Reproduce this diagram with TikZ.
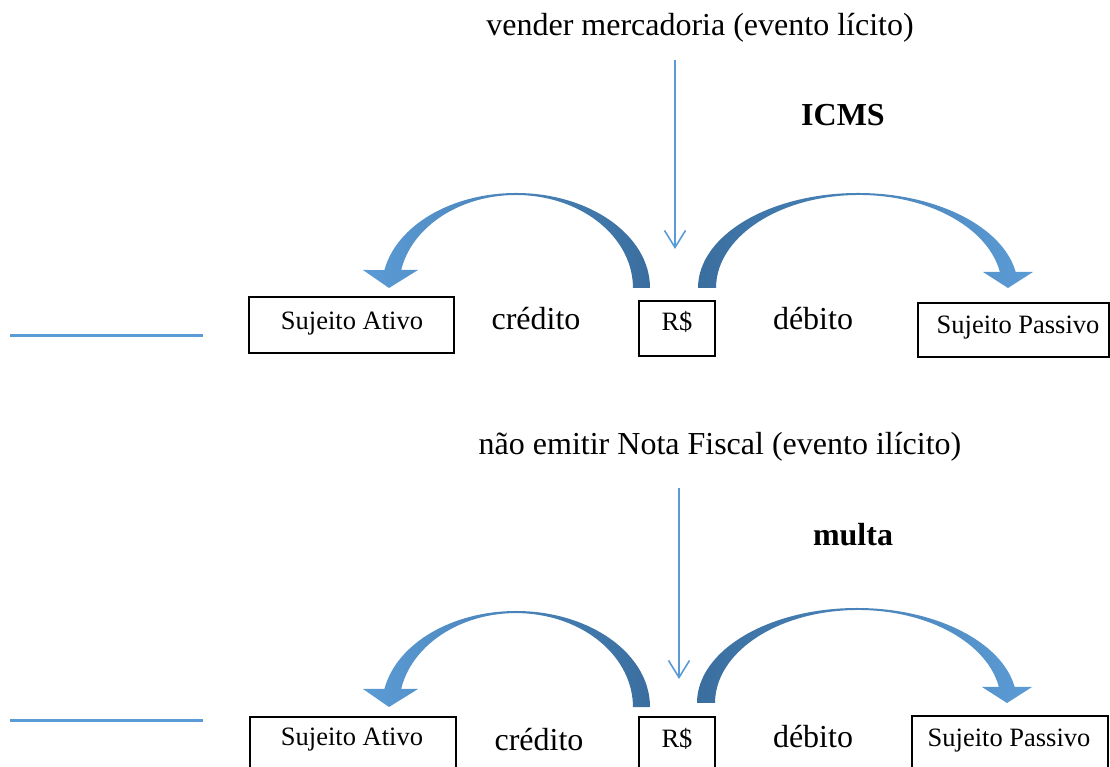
\documentclass[tikz,border=0pt]{standalone}
\usepackage{fontspec}
\setmainfont{Liberation Serif}
\usetikzlibrary{arrows.meta}
\definecolor{lb}{HTML}{5B9BD5}
\definecolor{db}{HTML}{3A6E9F}
\begin{document}
\begin{tikzpicture}[x=1pt,y=1pt,
  bigtext/.style={inner sep=0pt,font=\fontsize{32}{38}\selectfont},
  boxtext/.style={inner sep=0pt,anchor=base,font=\fontsize{26.5}{32}\selectfont},
  box/.style={draw=black,line width=1.3pt,inner sep=0pt},
  varrow/.style={draw=lb,line width=1.6pt,-{Straight Barb[length=17pt,width=21pt]}},
  sideline/.style={draw=lb,line width=3pt}]
\useasboundingbox (0,0) rectangle (1110,767);
\clip (0,0) rectangle (1110,767);

% ---------- top ----------
\node[bigtext] (t1) at (700,739) {vender mercadoria (evento lícito)};
\coordinate (a1s) at (675,707);
\coordinate (a1e) at (675,518);
\draw[varrow] (a1s) -- (a1e);
\node[bigtext,font=\fontsize{32}{38}\selectfont\bfseries] (icms) at (843,652) {ICMS};

\shade[left color=lb,right color=db]
  (650,479) arc[start angle=0,end angle=169.1,x radius=134pt,y radius=95pt]
  -- (363,497) -- (389,479) -- (418,497) -- (401.2,497.06)
  arc[start angle=168.8,end angle=0,x radius=117pt,y radius=93pt] -- cycle;
\shade[left color=db,right color=lb]
  (698,479) arc[start angle=180,end angle=9.7,x radius=160pt,y radius=95pt]
  -- (1033,495) -- (1008,479) -- (983,495) -- (999.9,495)
  arc[start angle=9.9,end angle=180,x radius=143pt,y radius=93pt] -- cycle;

\node[box,minimum width=205pt,minimum height=56pt] (sa1) at (351.5,442) {};
\node[boxtext] (sa1t) at (352,437) {Sujeito Ativo};
\node[box,minimum width=76pt,minimum height=55pt] (rs1) at (677,438.5) {};
\node[boxtext] (rs1t) at (677,436) {R\$};
\node[box,minimum width=191pt,minimum height=54pt] (sp1) at (1013.5,437) {};
\node[boxtext] (sp1t) at (1018,433) {Sujeito Passivo};
\node[bigtext,anchor=base] (cr1) at (536,437) {crédito};
\node[bigtext,anchor=base] (db1) at (813,437) {débito};
\coordinate (l1a) at (10,431);
\coordinate (l1b) at (203,431);
\draw[sideline] (l1a) -- (l1b);

% ---------- bottom ----------
\node[bigtext] (t2) at (720,320) {não emitir Nota Fiscal (evento ilícito)};
\coordinate (a2s) at (679,279);
\coordinate (a2e) at (679,88);
\draw[varrow] (a2s) -- (a2e);
\node[bigtext,font=\fontsize{32}{38}\selectfont\bfseries] (multa) at (853,232) {multa};

\begin{scope}[shift={(0,-419)}]
\shade[left color=lb,right color=db]
  (650,479) arc[start angle=0,end angle=169.1,x radius=134pt,y radius=96pt]
  -- (363,497) -- (389,479) -- (418,497) -- (401.2,497.16)
  arc[start angle=168.8,end angle=0,x radius=117pt,y radius=94pt] -- cycle;
\end{scope}
\begin{scope}[shift={(-1,-415)}]
\shade[left color=db,right color=lb]
  (698,479) arc[start angle=180,end angle=9.7,x radius=160pt,y radius=95pt]
  -- (1033,495) -- (1008,479) -- (983,495) -- (999.9,495)
  arc[start angle=9.9,end angle=180,x radius=143pt,y radius=93pt] -- cycle;
\end{scope}

\node[box,minimum width=206pt,minimum height=70pt] (sa2) at (353,15) {};
\node[boxtext] (sa2t) at (352,21) {Sujeito Ativo};
\node[box,minimum width=76pt,minimum height=70pt] (rs2) at (677,15) {};
\node[boxtext] (rs2t) at (677,19) {R\$};
\node[box,minimum width=196pt,minimum height=72pt] (sp2) at (1010,15) {};
\node[boxtext] (sp2t) at (1009,20) {Sujeito Passivo};
\node[bigtext,anchor=base] (cr2) at (539,16) {crédito};
\node[bigtext,anchor=base] (db2) at (813,19) {débito};
\coordinate (l2a) at (10,46);
\coordinate (l2b) at (203,46);
\draw[sideline] (l2a) -- (l2b);
\end{tikzpicture}
\end{document}
